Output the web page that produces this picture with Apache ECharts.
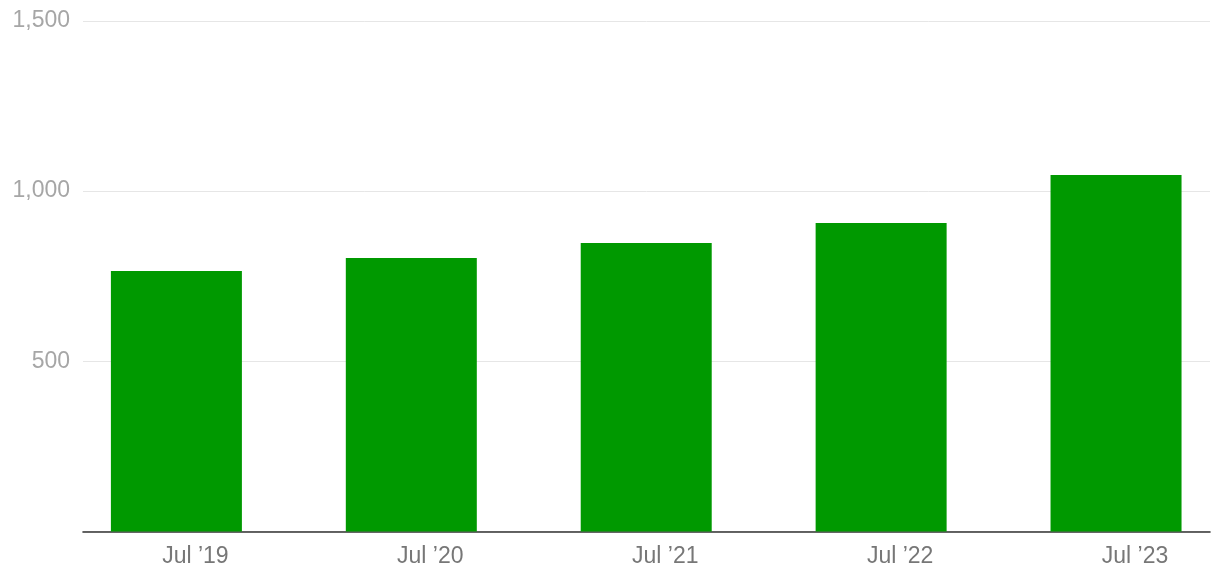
<!DOCTYPE html>
<html>
<head>
<meta charset="utf-8">
<script src="https://cdn.jsdelivr.net/npm/echarts@6/dist/echarts.min.js"></script>
<style>
html,body{margin:0;padding:0;background:#fff;}
#chart{width:1220px;height:584px;}
</style>
</head>
<body>
<div id="chart"></div>
<script>
const categories = ["Jul \u201919", "Jul \u201920", "Jul \u201921", "Jul \u201922", "Jul \u201923"];
const values = [765, 803, 847, 906, 1047];
const yTicks = [500, 1000, 1500];

const chart = echarts.init(document.getElementById('chart'), null, {renderer: 'canvas'});
const FONT = '"Liberation Sans", Helvetica, Arial, sans-serif';
const idx = categories.map((c, i) => i);

chart.setOption({
  animation: false,
  backgroundColor: '#ffffff',
  grid: {left: 83, right: 10, top: 20.75, bottom: 52.5, containLabel: false},
  xAxis: {
    type: 'value',
    min: -0.3976,
    max: 4.4,
    axisLine: {show: true, onZero: false, lineStyle: {color: '#333333', width: 1.6}},
    axisTick: {show: false},
    splitLine: {show: false},
    axisLabel: {
      customValues: idx,
      formatter: v => categories[Math.round(v)] || '',
      color: '#777777',
      fontFamily: FONT,
      fontSize: 23,
      margin: 14,
      padding: [0, 0, 0, 38]
    }
  },
  yAxis: {
    type: 'value',
    min: 0,
    max: 1500,
    interval: 500,
    axisLine: {show: false},
    axisTick: {show: false},
    splitLine: {show: true, lineStyle: {color: '#e6e6e6', width: 1}},
    axisLabel: {
      showMinLabel: false,
      formatter: v => yTicks.includes(v) ? v.toLocaleString('en-US') : '',
      color: '#a6a6a6',
      fontFamily: FONT,
      fontSize: 23,
      margin: 13
    }
  },
  series: [{
    type: 'bar',
    barWidth: 131,
    data: values.map((v, i) => [idx[i], v]),
    itemStyle: {color: '#009900'},
    z: 3
  }]
});
</script>
</body>
</html>
